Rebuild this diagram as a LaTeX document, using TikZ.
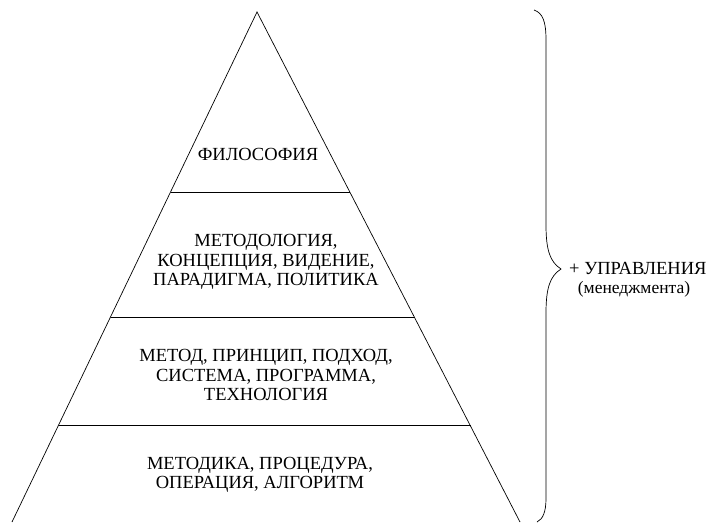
\documentclass[tikz,border=0pt]{standalone}
\usepackage{fontspec}
\setmainfont{Liberation Serif}
\begin{document}
\begin{tikzpicture}[x=1pt,y=-1pt,
  lbl/.style={align=center,font=\rmfamily\fontsize{18.5}{19.5}\selectfont,inner sep=0pt},
  ln/.style={draw=black,line width=0.7pt}]
\useasboundingbox (0,0) rectangle (710,523);
\coordinate (apex) at (257,12);
\coordinate (bl) at (12,522);
\coordinate (br) at (520,522);
\draw[ln,line join=miter] (bl) -- (apex) -- (br);
\coordinate (l1a) at (170.5,192); \coordinate (l1b) at (350,192);
\coordinate (l2a) at (110.5,317); \coordinate (l2b) at (414.5,317);
\coordinate (l3a) at (58.5,425);  \coordinate (l3b) at (470.5,425);
\draw[ln] (l1a) -- (l1b);
\draw[ln] (l2a) -- (l2b);
\draw[ln] (l3a) -- (l3b);
\node[lbl] (t1) at (258,154) {ФИЛОСОФИЯ};
\node[lbl] (t2) at (266,262) {МЕТОДОЛОГИЯ,\\КОНЦЕПЦИЯ, ВИДЕНИЕ,\\ПАРАДИГМА, ПОЛИТИКА};
\node[lbl] (t3) at (266,375) {МЕТОД, ПРИНЦИП, ПОДХОД,\\СИСТЕМА, ПРОГРАММА,\\ТЕХНОЛОГИЯ};
\node[lbl] (t4) at (260,475) {МЕТОДИКА, ПРОЦЕДУРА,\\ОПЕРАЦИЯ, АЛГОРИТМ};
\coordinate (bt) at (534,10);
\coordinate (tip) at (561,269);
\coordinate (bb) at (537,522);
\draw[ln] (bt) .. controls (543,13) and (546,22) .. (546,40) -- (546,225)
  .. controls (546,250) and (550,262) .. (tip)
  .. controls (550,276) and (546,288) .. (546,313) -- (546,498)
  .. controls (546,512) and (543,519) .. (bb);
\node[lbl,anchor=west] (m1) at (569,268) {+ УПРАВЛЕНИЯ};
\node[lbl,font=\rmfamily\fontsize{17.5}{18}\selectfont] (m2) at (634,289) {(менеджмента)};
\end{tikzpicture}
\end{document}
